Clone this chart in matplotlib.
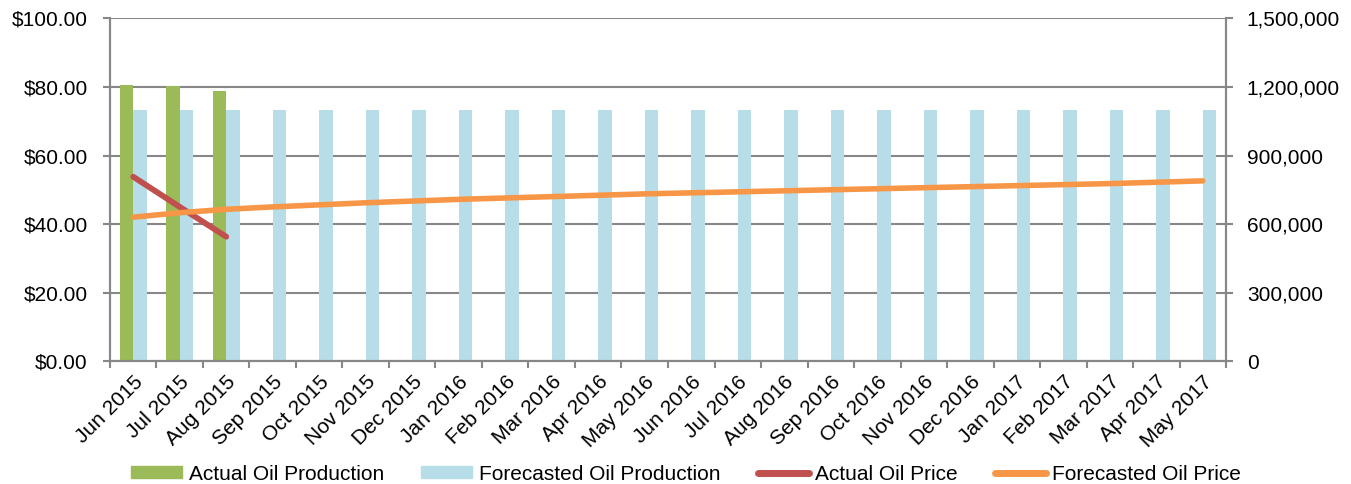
import matplotlib.pyplot as plt
import numpy as np
from matplotlib.lines import Line2D
from matplotlib.patches import Patch
from matplotlib.ticker import FuncFormatter, FixedLocator

plt.rcParams["font.family"] = ["Liberation Sans", "DejaVu Sans"]

# Data
months = [
    "Jun 2015", "Jul 2015", "Aug 2015", "Sep 2015", "Oct 2015", "Nov 2015",
    "Dec 2015", "Jan 2016", "Feb 2016", "Mar 2016", "Apr 2016", "May 2016",
    "Jun 2016", "Jul 2016", "Aug 2016", "Sep 2016", "Oct 2016", "Nov 2016",
    "Dec 2016", "Jan 2017", "Feb 2017", "Mar 2017", "Apr 2017", "May 2017",
]
actual_production = [1209000, 1204000, 1183000]
forecast_production = [1100000] * 24
actual_price = [53.8, 45.0, 36.3]
forecast_price = [
    42.0, 43.3, 44.3, 45.0, 45.6, 46.2, 46.7, 47.2, 47.6, 48.0, 48.4, 48.8,
    49.1, 49.4, 49.7, 50.0, 50.3, 50.6, 50.9, 51.2, 51.5, 51.8, 52.2, 52.6,
]

GREEN = "#9BBB59"
BLUE = "#B7DEE8"
RED = "#C0504D"
ORANGE = "#F79646"
GRID = "#878787"
FS = 15

x = np.arange(len(months))
bar_w = 0.29

fig = plt.figure(figsize=(13.51, 4.84), dpi=100)
ax = fig.add_axes([0.0814, 0.254, 0.8261, 0.7078])
ax2 = ax.twinx()

# bars on the secondary (right) axis, behind the price lines
ax2.bar(x[:len(actual_production)] - bar_w / 2, actual_production, bar_w, color=GREEN)
ax2.bar(x + bar_w / 2, forecast_production, bar_w, color=BLUE)
ax2.set_ylim(0, 1500000)
ax2.set_yticks(np.arange(0, 1500001, 300000))
ax2.yaxis.set_major_formatter(FuncFormatter(lambda v, p: f"{int(v):,}"))
ax2.grid(axis="y", color=GRID, linewidth=1.5)
ax2.set_axisbelow(True)

ax.plot(x[:len(actual_price)], actual_price, color=RED, linewidth=4.2,
        solid_capstyle="round")
ax.plot(x, forecast_price, color=ORANGE, linewidth=4.0, solid_capstyle="round")
ax.set_ylim(0, 100)
ax.set_yticks(np.arange(0, 101, 20))
ax.yaxis.set_major_formatter(FuncFormatter(lambda v, p: f"${v:.2f}"))
ax.set_xlim(-0.5, len(months) - 0.5)
ax.set_zorder(ax2.get_zorder() + 1)
ax.patch.set_visible(False)

ax.set_xticks(x)
ax.set_xticklabels(months, rotation=45, ha="right", va="top",
                   rotation_mode="anchor", fontsize=FS)
ax.xaxis.set_minor_locator(FixedLocator(np.arange(-0.5, len(months), 1)))
ax.tick_params(axis="x", which="major", length=0, pad=8)
ax.tick_params(axis="x", which="minor", length=5, width=1.5, color=GRID)
ax.tick_params(axis="y", length=5, width=1.5, color=GRID, labelsize=FS, pad=11)
ax2.tick_params(axis="y", length=5, width=1.5, color=GRID, labelsize=FS, pad=10)

for a in (ax, ax2):
    a.spines["top"].set_visible(False)
    for side in ("left", "right", "bottom"):
        a.spines[side].set_color(GRID)
        a.spines[side].set_linewidth(1.5)

handles = [
    Patch(color=GREEN, label="Actual Oil Production"),
    Patch(color=BLUE, label="Forecasted Oil Production"),
    Line2D([], [], color=RED, linewidth=5, solid_capstyle="round", label="Actual Oil Price"),
    Line2D([], [], color=ORANGE, linewidth=5, solid_capstyle="round", label="Forecasted Oil Price"),
]
fig.legend(handles=handles, loc="center", bbox_to_anchor=(0.508, 0.02), ncol=4,
           frameon=False, fontsize=FS, handlelength=2.45, handleheight=0.5,
           handletextpad=0.3, columnspacing=1.8)

fig.savefig("out.png", dpi=100)
